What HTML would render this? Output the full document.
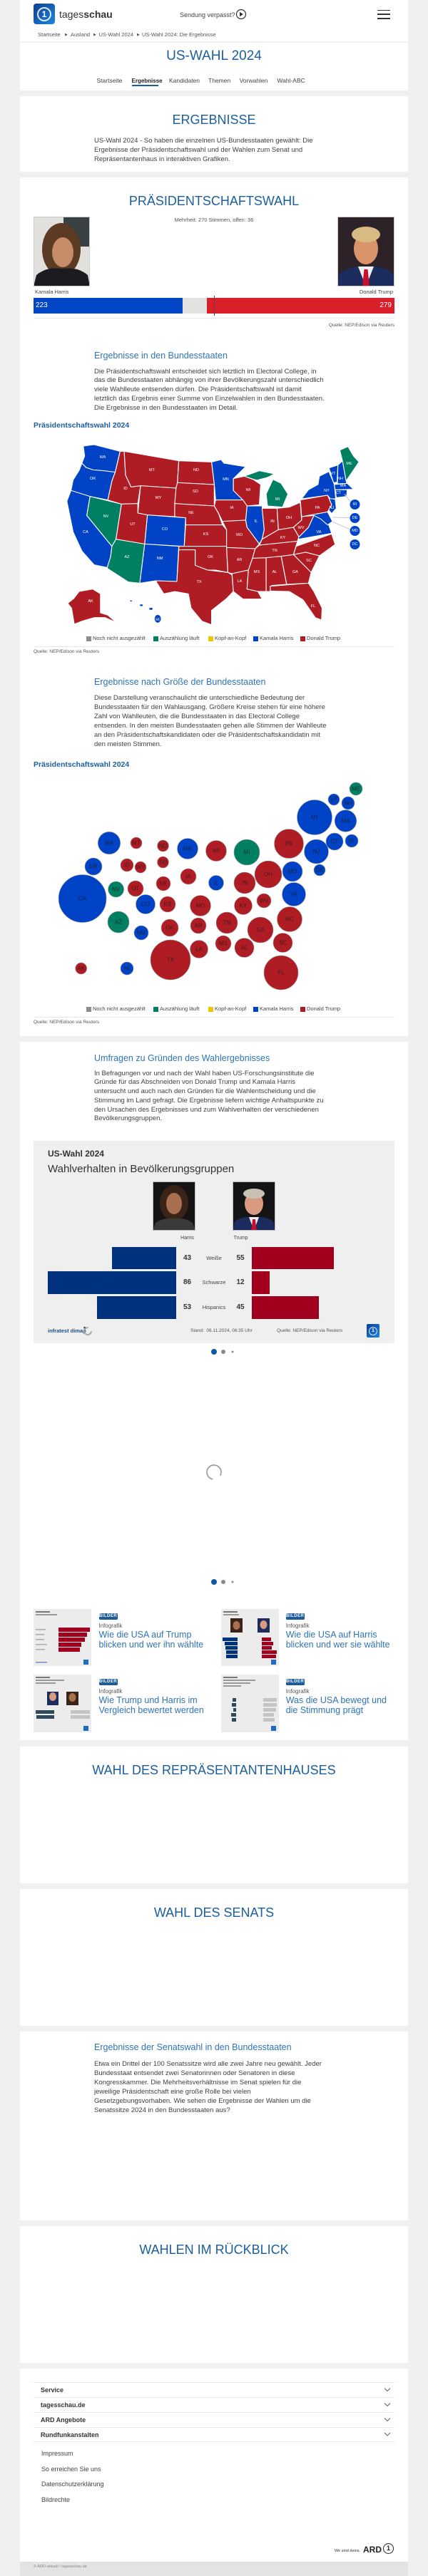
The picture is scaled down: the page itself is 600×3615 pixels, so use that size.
<!DOCTYPE html>
<html><head><meta charset="utf-8">
<style>
*{margin:0;padding:0;box-sizing:border-box}
html,body{width:600px;height:3615px;overflow:hidden}
body{background:#f0f0f0;font-family:"Liberation Sans",Arial,sans-serif;color:#333;position:relative}
.c{position:absolute;left:28px;width:544px;background:#fff}
.t{position:absolute;white-space:nowrap;line-height:1}
.h{position:absolute;left:0;width:600px;text-align:center;font-size:18px;line-height:20px;color:#1b5e9e;white-space:nowrap}
.p{position:absolute;left:132px;font-size:9.5px;line-height:12.9px;color:#404040;white-space:nowrap}
.s{position:absolute;left:132px;font-size:12.5px;line-height:14px;color:#2f74b5;white-space:nowrap}
.b{position:absolute;left:47px;font-size:10.5px;font-weight:bold;line-height:12px;color:#1b5e9e;white-space:nowrap}
.q{position:absolute;font-size:6.5px;line-height:8px;color:#555;white-space:nowrap}
.hr{position:absolute;left:47px;width:506px;height:1px;background:#e6e6e6}
.lg{position:absolute;font-size:7.5px;line-height:8px;color:#444;white-space:nowrap}
.sq{position:absolute;width:7px;height:7px}
.bc{position:absolute;font-size:7.5px;line-height:8px;color:#555;white-space:nowrap}
.nv{position:absolute;font-size:8.5px;line-height:9px;color:#444;white-space:nowrap;top:108.5px}
.badge{position:absolute;width:26px;height:9px;background:#1d5b9a;color:#fff;font-size:6px;font-weight:bold;line-height:9px;text-align:center;border-radius:1.5px;letter-spacing:0.5px}
.inf{position:absolute;font-size:8px;line-height:9px;color:#555}
.ct{position:absolute;font-size:12.5px;line-height:14px;color:#2f74b5;white-space:nowrap}
.fr{position:absolute;left:57px;font-size:9px;font-weight:bold;line-height:10px;color:#333}
.fl{position:absolute;left:58px;font-size:9px;line-height:10px;color:#444}
.num{position:absolute;font-size:10px;font-weight:bold;line-height:10px;color:#333;width:30px;text-align:center}
.grp{position:absolute;font-size:7.5px;line-height:8px;color:#444;width:60px;text-align:center;left:270px}
</style></head><body>

<!-- cards -->
<div class="c" style="top:0;height:127px"></div>
<div class="c" style="top:135px;height:106px"></div>
<div class="c" style="top:249px;height:1205px"></div>
<div class="c" style="top:1462px;height:980px"></div>
<div class="c" style="top:2451px;height:192px"></div>
<div class="c" style="top:2651px;height:192px"></div>
<div class="c" style="top:2851px;height:265px"></div>
<div class="c" style="top:3124px;height:192px"></div>
<div class="c" style="top:3324px;height:271px"></div>
<div style="position:absolute;left:28px;top:3595px;width:544px;height:20px;background:#e3e3e3"></div>

<!-- header -->
<div style="position:absolute;left:47px;top:5px;width:30px;height:29px;border-radius:4px;background:linear-gradient(135deg,#0a3f95,#1f86dc)"></div>
<div style="position:absolute;left:52px;top:9.5px;width:20px;height:20px;border-radius:50%;border:2px solid rgba(255,255,255,0.85);color:#fff;font-weight:bold;font-size:12px;line-height:16px;text-align:center">1</div>
<div class="t" style="left:83px;top:12px;font-size:14px;line-height:16px;color:#333">tages<b>schau</b></div>
<div class="t" style="left:252px;top:15.5px;font-size:9px;line-height:10px;color:#444">Sendung verpasst?</div>
<svg style="position:absolute;left:330px;top:12px" width="16" height="16"><circle cx="8" cy="8" r="6.5" fill="none" stroke="#333" stroke-width="1.2"/><path d="M6 4.8 L11 8 L6 11.2 Z" fill="#333"/></svg>
<div style="position:absolute;left:529px;top:13.5px;width:18px;height:1.6px;background:#333"></div>
<div style="position:absolute;left:529px;top:19.2px;width:18px;height:1.6px;background:#333"></div>
<div style="position:absolute;left:529px;top:25px;width:18px;height:1.6px;background:#333"></div>

<div class="bc" style="left:53px;top:45px">Startseite</div>
<div class="bc" style="left:91px;top:45px;font-size:5px">&#9654;</div>
<div class="bc" style="left:99px;top:45px">Ausland</div>
<div class="bc" style="left:131px;top:45px;font-size:5px">&#9654;</div>
<div class="bc" style="left:138.5px;top:45px">US-Wahl 2024</div>
<div class="bc" style="left:192px;top:45px;font-size:5px">&#9654;</div>
<div class="bc" style="left:199px;top:45px">US-Wahl 2024: Die Ergebnisse</div>
<div style="position:absolute;left:28px;top:58px;width:544px;height:2px;background:#f2f2f2"></div>

<div class="h" style="top:69px;font-size:19px">US-WAHL 2024</div>
<div class="nv" style="left:135.5px">Startseite</div>
<div class="nv" style="left:184.5px;color:#222;font-weight:bold;font-size:8px">Ergebnisse</div>
<div class="nv" style="left:237px">Kandidaten</div>
<div class="nv" style="left:292px">Themen</div>
<div class="nv" style="left:335.6px">Vorwahlen</div>
<div class="nv" style="left:388.4px">Wahl-ABC</div>
<div style="position:absolute;left:184.5px;top:119px;width:37.5px;height:1.6px;background:#1b5e9e"></div>

<!-- card 2 -->
<div class="h" style="top:158px">ERGEBNISSE</div>
<div class="p" style="top:190.5px;line-height:13px">US-Wahl 2024 - So haben die einzelnen US-Bundesstaaten gewählt: Die<br>Ergebnisse der Präsidentschaftswahl und der Wahlen zum Senat und<br>Repräsentantenhaus in interaktiven Grafiken.</div>

<!-- card 3 -->
<div class="h" style="top:272px">PRÄSIDENTSCHAFTSWAHL</div>

<svg style="position:absolute;left:47px;top:304px" width="79" height="98">
<rect width="79" height="98" fill="#e2e0dc"/>
<rect x="42" y="0" width="37" height="42" fill="#384042"/>
<ellipse cx="39" cy="46" rx="27" ry="37" fill="#5b3b24"/>
<ellipse cx="41" cy="50" rx="15" ry="21" fill="#c68c6a"/>
<path d="M0 98 L4 82 Q18 70 40 73 Q62 70 76 82 L79 98 Z" fill="#1c1c20"/>
<rect x="0.5" y="0.5" width="78" height="97" fill="none" stroke="#ccc"/>
</svg>
<svg style="position:absolute;left:473px;top:304px" width="80" height="98">
<rect width="80" height="98" fill="#2c2228"/>
<path d="M0 98 L3 80 Q20 68 40 70 Q62 68 78 80 L80 98 Z" fill="#1d2c5e"/>
<path d="M29 70 L51 70 L40 98 Z" fill="#f0f0f0"/>
<path d="M37.5 74 L42.5 74 L45 98 L35 98 Z" fill="#c8102e"/>
<ellipse cx="40" cy="45" rx="17" ry="22" fill="#d9946a"/>
<ellipse cx="40" cy="25" rx="20" ry="11" fill="#d8bb82"/>
<rect x="0.5" y="0.5" width="79" height="97" fill="none" stroke="#ccc"/>
</svg>
<div class="t" style="left:0;width:600px;text-align:center;top:305px;font-size:7.5px;line-height:8px;color:#555">Mehrheit: 270 Stimmen, offen: 36</div>
<div class="t" style="left:49px;top:406px;font-size:7.5px;line-height:8px;color:#444">Kamala Harris</div>
<div class="t" style="right:49px;top:406px;font-size:7.5px;line-height:8px;color:#444">Donald Trump</div>
<div style="position:absolute;left:47px;top:418px;width:209px;height:22px;background:#0046c6"></div>
<div style="position:absolute;left:256px;top:418px;width:34px;height:22px;background:#e2e2e2"></div>
<div style="position:absolute;left:290px;top:418px;width:263px;height:22px;background:#d81f2a"></div>
<div style="position:absolute;left:299.5px;top:415px;width:0;height:28px;border-left:1px dashed #444"></div>
<div class="t" style="left:50px;top:424px;font-size:10px;color:#fff">223</div>
<div class="t" style="right:51px;top:424px;font-size:10px;color:#fff">279</div>
<div class="hr" style="top:446px"></div>
<div class="q" style="right:47px;top:453px">Quelle: NEP/Edison via Reuters</div>

<div class="s" style="top:492px">Ergebnisse in den Bundesstaaten</div>
<div class="p" style="top:515.5px;line-height:12.75px">Die Präsidentschaftswahl entscheidet sich letztlich im Electoral College, in<br>das die Bundesstaaten abhängig von ihrer Bevölkerungszahl unterschiedlich<br>viele Wahlleute entsenden dürfen. Die Präsidentschaftswahl ist damit<br>letztlich das Ergebnis einer Summe von Einzelwahlen in den Bundesstaaten.<br>Die Ergebnisse in den Bundesstaaten im Detail.</div>
<div class="b" style="top:591px">Präsidentschaftswahl 2024</div>

<!-- US map -->
<svg style="position:absolute;left:0;top:600px" width="600" height="300" viewBox="0 0 600 300">
<g transform="scale(0.38265 0.33333)" stroke="#fff" stroke-width="3" stroke-linejoin="round">
<g fill="#0043c6">
<polygon points="305,78 345,72 440,100 422,188 380,182 340,178 315,168 300,150 310,120"/>
<polygon points="300,150 315,168 340,178 380,182 422,188 410,225 395,305 330,290 260,265 268,220 290,180"/>
<polygon points="260,265 330,290 318,370 410,500 405,545 395,590 345,578 300,520 268,440 245,310"/>
<polygon points="540,368 680,380 675,500 530,490"/>
<polygon points="530,490 655,500 648,648 570,645 512,655"/>
<polygon points="775,145 810,135 820,150 900,165 855,215 855,265 890,305 790,305 785,240"/>
<polygon points="905,330 960,330 968,430 960,470 950,490 905,420 900,390"/>
<polygon points="1045,480 1095,460 1100,455 1130,420 1150,370 1200,395 1215,445"/>
<polygon points="1105,300 1130,262 1165,240 1170,205 1205,185 1225,240 1230,300 1210,300 1200,285"/>
<polygon points="1205,298 1228,302 1232,340 1215,362 1203,345 1215,325"/>
<polygon points="1105,375 1200,355 1218,395 1200,410 1175,385 1150,370"/>
<polygon points="1205,170 1238,158 1235,230 1222,232"/>
<polygon points="1238,158 1255,140 1270,235 1236,237"/>
<polygon points="1224,240 1272,235 1295,260 1228,262"/>
<polygon points="1228,262 1272,262 1270,290 1232,295"/>
<ellipse cx="480" cy="730" rx="5" ry="4"/>
<ellipse cx="518" cy="748" rx="7" ry="5"/>
<ellipse cx="553" cy="763" rx="8" ry="6"/>
<ellipse cx="578" cy="805" rx="13" ry="18"/>
</g>
<g fill="#007f63">
<polygon points="330,290 445,322 425,470 410,500 318,370"/>
<polygon points="425,470 530,490 512,655 470,650 392,592 405,545 410,500"/>
<polygon points="980,330 975,280 1000,218 1030,235 1055,280 1035,335"/>
<polygon points="895,205 950,182 1005,195 980,210 940,222"/>
<polygon points="1245,95 1275,80 1295,120 1315,145 1268,225 1255,142"/>
</g>
<g fill="#b01c24">
<polygon points="440,100 455,100 460,200 480,250 515,245 505,320 445,322 395,305 410,225 422,188 430,150"/>
<polygon points="455,100 655,140 650,232 645,255 515,245 480,250 460,200"/>
<polygon points="515,245 645,255 640,375 540,368 505,360"/>
<polygon points="445,322 505,320 505,360 540,368 530,490 425,470"/>
<polygon points="655,140 775,145 785,240 650,232"/>
<polygon points="650,232 785,240 785,330 640,320 645,255"/>
<polygon points="640,320 785,330 800,360 815,410 680,410 680,380 640,375"/>
<polygon points="680,410 815,410 830,430 830,500 675,500"/>
<polygon points="655,500 830,500 835,610 790,600 760,600 715,580 715,515 655,515"/>
<polygon points="570,645 648,648 655,515 715,515 715,580 760,600 835,610 850,620 855,690 830,720 775,770 775,830 740,815 700,760 690,700 640,690 600,700"/>
<polygon points="855,215 895,205 930,220 955,240 950,325 905,330 890,305 855,265"/>
<polygon points="790,305 890,305 905,330 900,390 815,395 800,360 785,330"/>
<polygon points="815,395 900,390 905,420 950,490 935,510 830,505 830,430"/>
<polygon points="830,505 935,510 925,550 910,600 850,615 835,610"/>
<polygon points="850,615 910,600 905,680 945,690 960,722 890,722 855,690"/>
<polygon points="925,550 975,548 975,690 945,690 905,680 910,600"/>
<polygon points="935,510 950,495 1090,478 1075,535 1030,542 975,548 925,550"/>
<polygon points="950,495 960,470 1020,430 1075,420 1095,460 1090,478"/>
<polygon points="960,340 1015,340 1020,430 960,470 968,430"/>
<polygon points="1015,340 1060,335 1100,315 1105,390 1075,420 1020,430"/>
<polygon points="1075,420 1105,390 1105,375 1150,370 1130,420 1100,455 1095,460"/>
<polygon points="1085,500 1215,448 1228,492 1170,540 1120,525 1075,535"/>
<polygon points="1075,535 1120,525 1170,540 1140,610"/>
<polygon points="1030,542 1075,535 1140,610 1130,655 1050,660"/>
<polygon points="975,548 1030,542 1050,660 995,665 990,690 975,690"/>
<polygon points="990,668 1130,655 1150,690 1180,760 1178,810 1155,800 1110,725 1060,690 990,688"/>
<polygon points="1100,305 1200,285 1215,325 1200,355 1105,375"/>
<polygon points="290,690 340,680 368,700 368,780 395,790 425,820 385,800 345,800 300,815 272,828 262,760 248,740 270,720"/>
</g>
<g stroke="#c8c8c8" stroke-width="3" fill="none">
<line x1="1262" y1="280" x2="1288" y2="318"/>
<line x1="1218" y1="378" x2="1283" y2="380"/>
<line x1="1215" y1="395" x2="1285" y2="430"/>
</g>
</g>
<g fill="#0043c6">
<circle cx="497.5" cy="108" r="7"/><circle cx="497.5" cy="127" r="7"/><circle cx="497.5" cy="145" r="7"/><circle cx="497.5" cy="164" r="7"/>
</g>
<g font-family="Liberation Sans, sans-serif" font-size="5.5" fill="#fff" text-anchor="middle" dominant-baseline="central">
<text x="144" y="42">WA</text><text x="130" y="72">OR</text><text x="120" y="147">CA</text><text x="148.5" y="125">NV</text>
<text x="176" y="86">ID</text><text x="213" y="60">MT</text><text x="222" y="99">WY</text><text x="186" y="136">UT</text>
<text x="178" y="182">AZ</text><text x="231" y="143">CO</text><text x="224" y="184">NM</text><text x="275" y="60">ND</text>
<text x="274" y="90">SD</text><text x="268" y="120">NE</text><text x="288.5" y="150">KS</text><text x="295" y="182">OK</text>
<text x="279" y="217">TX</text><text x="316.5" y="73">MN</text><text x="348" y="88">WI</text><text x="325" y="113">IA</text>
<text x="359" y="132">IL</text><text x="335.6" y="151">MO</text><text x="335.6" y="186">AR</text><text x="336" y="216">LA</text>
<text x="389" y="101">MI</text><text x="382" y="132">IN</text><text x="405" y="127">OH</text><text x="396.5" y="155">KY</text>
<text x="385" y="173">TN</text><text x="360" y="203">MS</text><text x="385" y="203">AL</text><text x="414" y="203">GA</text>
<text x="439" y="251">FL</text><text x="433" y="187">SC</text><text x="444" y="166">NC</text><text x="447" y="147">VA</text>
<text x="422" y="141">WV</text><text x="445" y="113">PA</text><text x="458" y="89">NY</text><text x="467" y="65">VT</text>
<text x="477" y="72">NH</text><text x="481" y="82">MA</text><text x="474.5" y="92">CT</text><text x="465" y="113">NJ</text>
<text x="489.5" y="51">ME</text><text x="127" y="244">AK</text><text x="221" y="270">HI</text>
<text x="497.5" y="108">RI</text><text x="497.5" y="127">DE</text><text x="497.5" y="145">MD</text><text x="497.5" y="164">DC</text>
</g>
</svg>

<!-- legend 1 -->
<div class="sq" style="left:121px;top:892.5px;background:#8c8c8c"></div><div class="lg" style="left:130px;top:892px">Noch nicht ausgezählt</div>
<div class="sq" style="left:215px;top:892.5px;background:#007f63"></div><div class="lg" style="left:224px;top:892px">Auszählung läuft</div>
<div class="sq" style="left:292px;top:892.5px;background:#f0c400"></div><div class="lg" style="left:301px;top:892px">Kopf-an-Kopf</div>
<div class="sq" style="left:355px;top:892.5px;background:#0043c6"></div><div class="lg" style="left:364px;top:892px">Kamala Harris</div>
<div class="sq" style="left:421px;top:892.5px;background:#b01c24"></div><div class="lg" style="left:430px;top:892px">Donald Trump</div>
<div class="hr" style="top:907px"></div>
<div class="q" style="left:47px;top:911px">Quelle: NEP/Edison via Reuters</div>

<div class="s" style="top:950px">Ergebnisse nach Größe der Bundesstaaten</div>
<div class="p" style="top:972.5px;line-height:13px">Diese Darstellung veranschaulicht die unterschiedliche Bedeutung der<br>Bundesstaaten für den Wahlausgang. Größere Kreise stehen für eine höhere<br>Zahl von Wahlleuten, die die Bundesstaaten in das Electoral College<br>entsenden. In den meisten Bundesstaaten gehen alle Stimmen der Wahlleute<br>an den Präsidentschaftskandidaten oder die Präsidentschaftskandidatin mit<br>den meisten Stimmen.</div>
<div class="b" style="top:1067px">Präsidentschaftswahl 2024</div>

<!-- bubble map -->
<svg style="position:absolute;left:0;top:1090px" width="600" height="300">
<g transform="translate(0,-1090)" stroke="#9a9a9a" stroke-width="0.6">
<g fill="#0043c6">
<circle cx="468" cy="1122" r="8"/><circle cx="488" cy="1127" r="9"/><circle cx="441" cy="1147" r="24.5"/><circle cx="484.5" cy="1152" r="15.3"/>
<circle cx="153" cy="1183" r="15.7"/><circle cx="263" cy="1191" r="14.5"/><circle cx="443.5" cy="1195" r="17"/><circle cx="469" cy="1181" r="12"/>
<circle cx="493" cy="1180" r="9"/><circle cx="448" cy="1221" r="8"/><circle cx="131" cy="1216" r="12"/><circle cx="115.6" cy="1261" r="33.5"/>
<circle cx="303" cy="1239" r="10.5"/><circle cx="410" cy="1223" r="14"/><circle cx="204" cy="1269" r="13.5"/><circle cx="412" cy="1255" r="16.5"/>
<circle cx="198" cy="1309" r="10"/><circle cx="178" cy="1359" r="9"/>
</g>
<g fill="#007f63">
<circle cx="499" cy="1107" r="9"/><circle cx="346" cy="1196" r="18"/><circle cx="162.6" cy="1248" r="11"/><circle cx="166" cy="1294" r="15"/>
</g>
<g fill="#b01c24">
<circle cx="191" cy="1183" r="8"/><circle cx="228.5" cy="1187" r="8"/><circle cx="303" cy="1194" r="14.5"/><circle cx="405" cy="1184" r="20.5"/>
<circle cx="178" cy="1214" r="9"/><circle cx="197" cy="1217" r="8"/><circle cx="228.5" cy="1210" r="8"/><circle cx="190" cy="1247" r="11"/>
<circle cx="229" cy="1240" r="10"/><circle cx="264" cy="1230" r="11"/><circle cx="343" cy="1239" r="15"/><circle cx="376" cy="1227" r="19"/>
<circle cx="235" cy="1269" r="11"/><circle cx="281" cy="1271" r="14.5"/><circle cx="341" cy="1271" r="12.5"/><circle cx="370" cy="1264" r="10"/>
<circle cx="238" cy="1302" r="12"/><circle cx="278" cy="1299" r="11"/><circle cx="318" cy="1295" r="15"/><circle cx="365" cy="1305" r="18"/>
<circle cx="406" cy="1290" r="17.5"/><circle cx="279" cy="1332" r="12.5"/><circle cx="313" cy="1324" r="11"/><circle cx="342.5" cy="1330" r="13.5"/>
<circle cx="396.5" cy="1323" r="13.5"/><circle cx="239" cy="1347" r="28"/><circle cx="394" cy="1365" r="24"/><circle cx="113.7" cy="1359" r="8"/>
</g>
<g font-family="Liberation Sans, sans-serif" font-size="8" fill="#1a1a1a" fill-opacity="0.75" stroke="none" text-anchor="middle" dominant-baseline="central">
<text x="499" y="1107">ME</text><text x="468" y="1122">VT</text><text x="488" y="1127">NH</text><text x="441" y="1147">NY</text><text x="484.5" y="1152">MA</text>
<text x="153" y="1183">WA</text><text x="191" y="1183">MT</text><text x="228.5" y="1187">ND</text><text x="263" y="1191">MN</text><text x="303" y="1194">WI</text>
<text x="346" y="1196">MI</text><text x="405" y="1184">PA</text><text x="443.5" y="1195">NJ</text><text x="469" y="1181">CT</text><text x="493" y="1180">RI</text>
<text x="448" y="1221">DE</text><text x="131" y="1216">OR</text><text x="178" y="1214">ID</text><text x="197" y="1217">WY</text><text x="228.5" y="1210">SD</text>
<text x="115.6" y="1261">CA</text><text x="162.6" y="1248">NV</text><text x="190" y="1247">UT</text><text x="229" y="1240">NE</text><text x="264" y="1230">IA</text>
<text x="303" y="1239">IL</text><text x="343" y="1239">IN</text><text x="376" y="1227">OH</text><text x="410" y="1223">MD</text><text x="204" y="1269">CO</text>
<text x="235" y="1269">KS</text><text x="281" y="1271">MO</text><text x="341" y="1271">KY</text><text x="370" y="1264">WV</text><text x="412" y="1255">VA</text>
<text x="166" y="1294">AZ</text><text x="198" y="1309">NM</text><text x="238" y="1302">OK</text><text x="278" y="1299">AR</text><text x="318" y="1295">TN</text>
<text x="365" y="1305">GA</text><text x="406" y="1290">NC</text><text x="279" y="1332">LA</text><text x="313" y="1324">MS</text><text x="342.5" y="1330">AL</text>
<text x="396.5" y="1323">SC</text><text x="239" y="1347">TX</text><text x="394" y="1365">FL</text><text x="113.7" y="1359">AK</text><text x="178" y="1359">HI</text>
</g>
</g>
</svg>

<!-- legend 2 -->
<div class="sq" style="left:121px;top:1412.5px;background:#8c8c8c"></div><div class="lg" style="left:130px;top:1412px">Noch nicht ausgezählt</div>
<div class="sq" style="left:215px;top:1412.5px;background:#007f63"></div><div class="lg" style="left:224px;top:1412px">Auszählung läuft</div>
<div class="sq" style="left:292px;top:1412.5px;background:#f0c400"></div><div class="lg" style="left:301px;top:1412px">Kopf-an-Kopf</div>
<div class="sq" style="left:355px;top:1412.5px;background:#0043c6"></div><div class="lg" style="left:364px;top:1412px">Kamala Harris</div>
<div class="sq" style="left:421px;top:1412.5px;background:#b01c24"></div><div class="lg" style="left:430px;top:1412px">Donald Trump</div>
<div class="hr" style="top:1427px"></div>
<div class="q" style="left:47px;top:1431px">Quelle: NEP/Edison via Reuters</div>

<!-- card 4 -->
<div class="s" style="top:1478px">Umfragen zu Gründen des Wahlergebnisses</div>
<div class="p" style="top:1500.5px;line-height:12.8px">In Befragungen vor und nach der Wahl haben US-Forschungsinstitute die<br>Gründe für das Abschneiden von Donald Trump und Kamala Harris<br>untersucht und auch nach den Gründen für die Wahlentscheidung und die<br>Stimmung im Land gefragt. Die Ergebnisse liefern wichtige Anhaltspunkte zu<br>den Ursachen des Ergebnisses und zum Wahlverhalten der verschiedenen<br>Bevölkerungsgruppen.</div>

<div style="position:absolute;left:47px;top:1601px;width:506px;height:284px;background:#efefef"></div>
<div class="t" style="left:67px;top:1612px;font-size:12px;line-height:14px;font-weight:bold;color:#333">US-Wahl 2024</div>
<div class="t" style="left:67px;top:1632px;font-size:15px;line-height:18px;color:#333">Wahlverhalten in Bevölkerungsgruppen</div>
<svg style="position:absolute;left:214px;top:1658px" width="60" height="69">
<rect width="60" height="69" fill="#141414"/>
<ellipse cx="30" cy="30" rx="20" ry="25" fill="#3a2418"/>
<ellipse cx="30" cy="31" rx="11" ry="15" fill="#a8704e"/>
<path d="M0 69 L4 58 Q16 50 30 52 Q44 50 56 58 L60 69 Z" fill="#3a3a3a"/>
<rect x="0.5" y="0.5" width="59" height="68" fill="none" stroke="#bbb"/>
</svg>
<svg style="position:absolute;left:326px;top:1658px" width="60" height="69">
<rect width="60" height="69" fill="#141414"/>
<path d="M0 69 L3 56 Q15 48 30 50 Q45 48 57 56 L60 69 Z" fill="#1d2c5e"/>
<path d="M23 50 L37 50 L30 69 Z" fill="#eee"/>
<path d="M28 53 L32 53 L33.5 69 L26.5 69 Z" fill="#c8102e"/>
<ellipse cx="30" cy="31" rx="13" ry="16" fill="#d89a80"/>
<ellipse cx="30" cy="17" rx="15" ry="7" fill="#c8c0b0"/>
<rect x="0.5" y="0.5" width="59" height="68" fill="none" stroke="#bbb"/>
</svg>
<div class="t" style="left:232.5px;width:60px;text-align:center;top:1734px;font-size:7px;line-height:8px;color:#444">Harris</div>
<div class="t" style="left:307.5px;width:60px;text-align:center;top:1734px;font-size:7px;line-height:8px;color:#444">Trump</div>

<div style="position:absolute;left:157px;top:1750px;width:90px;height:31px;background:#00317c"></div>
<div style="position:absolute;left:353px;top:1750px;width:115px;height:31px;background:#a0001e"></div>
<div class="num" style="left:247.5px;top:1761px">43</div><div class="grp" style="top:1762px">Weiße</div><div class="num" style="left:322px;top:1761px">55</div>
<div style="position:absolute;left:67px;top:1784px;width:180px;height:32px;background:#00317c"></div>
<div style="position:absolute;left:353px;top:1784px;width:25px;height:32px;background:#a0001e"></div>
<div class="num" style="left:247.5px;top:1795px">86</div><div class="grp" style="top:1796px">Schwarze</div><div class="num" style="left:322px;top:1795px">12</div>
<div style="position:absolute;left:136px;top:1819px;width:111px;height:32px;background:#00317c"></div>
<div style="position:absolute;left:353px;top:1819px;width:94px;height:32px;background:#a0001e"></div>
<div class="num" style="left:247.5px;top:1830px">53</div><div class="grp" style="top:1831px">Hispanics</div><div class="num" style="left:322px;top:1830px">45</div>

<div class="t" style="left:67px;top:1864px;font-size:7.5px;line-height:8px;color:#1f4f86;font-weight:bold">infratest dimap</div>
<svg style="position:absolute;left:116px;top:1861px" width="14" height="14"><circle cx="7" cy="7" r="5" fill="none" stroke="#aaa" stroke-width="2" stroke-dasharray="24 8"/><circle cx="2.5" cy="2" r="1.3" fill="#1f4f86"/></svg>
<div class="q" style="left:267px;top:1864px">Stand:&nbsp; 06.11.2024, 06:35 Uhr</div>
<div class="q" style="left:388px;top:1864px">Quelle: NEP/Edison via Reuters</div>
<div style="position:absolute;left:514px;top:1858px;width:18px;height:19px;border-radius:2px;background:linear-gradient(135deg,#0a3f95,#1f86dc)"></div>
<div style="position:absolute;left:517px;top:1861.5px;width:12px;height:12px;border-radius:50%;border:1.2px solid rgba(255,255,255,0.85);color:#fff;font-size:7px;font-weight:bold;line-height:10px;text-align:center">1</div>

<svg style="position:absolute;left:290px;top:1890px" width="42" height="14"><circle cx="10" cy="7" r="4" fill="#0a5aa8"/><circle cx="23" cy="7" r="3" fill="#8a8a8a"/><circle cx="36" cy="7" r="1.5" fill="#8a8a8a"/></svg>

<svg style="position:absolute;left:288px;top:2054px" width="24" height="24"><circle cx="12" cy="12" r="10" fill="none" stroke="#999" stroke-width="1.6" stroke-dasharray="50 13" transform="rotate(100 12 12)"/></svg>

<svg style="position:absolute;left:290px;top:2213px" width="42" height="14"><circle cx="10" cy="7" r="4" fill="#0a5aa8"/><circle cx="23" cy="7" r="3" fill="#8a8a8a"/><circle cx="36" cy="7" r="1.5" fill="#8a8a8a"/></svg>

<!-- teaser thumbnails -->
<svg style="position:absolute;left:47px;top:2258px" width="81" height="80">
<rect width="81" height="80" fill="#ececec"/>
<rect x="3" y="3" width="20" height="2" fill="#777"/><rect x="3" y="7" width="30" height="2" fill="#999"/>
<g fill="#a0001e"><rect x="35" y="26" width="44" height="6"/><rect x="35" y="33" width="40" height="6"/><rect x="35" y="40" width="37" height="6"/><rect x="35" y="47" width="32" height="6"/><rect x="35" y="54" width="30" height="6"/></g>
<g fill="#aaa"><rect x="3" y="28" width="14" height="1.5"/><rect x="3" y="35" width="12" height="1.5"/><rect x="3" y="42" width="12" height="1.5"/><rect x="3" y="49" width="16" height="1.5"/><rect x="3" y="56" width="13" height="1.5"/></g>
<rect x="70" y="71" width="7" height="7" fill="#1f6cc0"/><rect x="3" y="74" width="16" height="1.5" fill="#6a8fc0"/>
</svg>
<svg style="position:absolute;left:310px;top:2258px" width="81" height="80">
<rect width="81" height="80" fill="#ececec"/>
<rect x="3" y="3" width="20" height="2" fill="#777"/><rect x="3" y="7" width="22" height="2" fill="#999"/>
<rect x="13" y="13" width="17" height="20" fill="#3a2418"/><ellipse cx="21.5" cy="23" rx="5" ry="6" fill="#a8704e"/>
<rect x="51" y="13" width="17" height="20" fill="#1d2c5e"/><ellipse cx="59.5" cy="22" rx="5" ry="6" fill="#d89a80"/>
<g fill="#00317c"><rect x="2" y="40" width="21" height="5"/><rect x="5" y="46" width="18" height="5"/><rect x="6" y="52" width="17" height="5"/><rect x="7" y="58" width="16" height="5"/><rect x="7" y="64" width="16" height="5"/></g>
<g fill="#a0001e"><rect x="57" y="40" width="13" height="5"/><rect x="57" y="46" width="16" height="5"/><rect x="57" y="52" width="14" height="5"/><rect x="57" y="58" width="21" height="5"/><rect x="57" y="64" width="20" height="5"/></g>
<rect x="70" y="71" width="7" height="7" fill="#1f6cc0"/>
</svg>
<svg style="position:absolute;left:47px;top:2350px" width="81" height="81">
<rect width="81" height="81" fill="#ececec"/>
<rect x="3" y="3" width="20" height="2" fill="#777"/><rect x="3" y="7" width="40" height="2" fill="#999"/><rect x="3" y="11" width="28" height="2" fill="#999"/>
<rect x="19" y="24" width="16" height="19" fill="#1d2c5e"/><ellipse cx="27" cy="31" rx="5" ry="6" fill="#d89a80"/>
<rect x="46" y="24" width="17" height="19" fill="#3a2418"/><ellipse cx="54.5" cy="32" rx="5" ry="6" fill="#a8704e"/>
<g fill="#2e4a5a"><rect x="3" y="50" width="26" height="5"/><rect x="4" y="57" width="25" height="5"/></g>
<g fill="#c4c4c4"><rect x="52" y="50" width="27" height="5"/><rect x="52" y="57" width="27" height="5"/></g>
<rect x="70" y="72" width="7" height="7" fill="#1f6cc0"/>
</svg>
<svg style="position:absolute;left:310px;top:2350px" width="81" height="81">
<rect width="81" height="81" fill="#ececec"/>
<rect x="3" y="3" width="20" height="2" fill="#777"/><rect x="3" y="7" width="45" height="2" fill="#999"/><rect x="3" y="11" width="38" height="2" fill="#999"/><rect x="3" y="15" width="25" height="2" fill="#999"/>
<g fill="#2e4a5a"><rect x="16" y="33" width="5" height="5"/><rect x="15" y="40" width="6" height="5"/><rect x="17" y="47" width="4" height="5"/><rect x="14" y="54" width="7" height="5"/><rect x="15" y="61" width="6" height="5"/></g>
<g fill="#c4c4c4"><rect x="59" y="33" width="19" height="5"/><rect x="59" y="40" width="19" height="5"/><rect x="59" y="47" width="18" height="5"/><rect x="59" y="54" width="15" height="5"/><rect x="59" y="61" width="16" height="5"/></g>
<rect x="70" y="72" width="7" height="7" fill="#1f6cc0"/>
</svg>

<div class="badge" style="left:138.5px;top:2263.5px">BILDER</div>
<div class="inf" style="left:138.5px;top:2276.5px">Infografik</div>
<div class="ct" style="left:138.5px;top:2287px">Wie die USA auf Trump</div>
<div class="ct" style="left:138.5px;top:2301px">blicken und wer ihn wählte</div>

<div class="badge" style="left:400.7px;top:2263.5px">BILDER</div>
<div class="inf" style="left:400.7px;top:2276.5px">Infografik</div>
<div class="ct" style="left:400.7px;top:2287px">Wie die USA auf Harris</div>
<div class="ct" style="left:400.7px;top:2301px">blicken und wer sie wählte</div>

<div class="badge" style="left:138.5px;top:2355.5px">BILDER</div>
<div class="inf" style="left:138.5px;top:2368.5px">Infografik</div>
<div class="ct" style="left:138.5px;top:2379px">Wie Trump und Harris im</div>
<div class="ct" style="left:138.5px;top:2393px">Vergleich bewertet werden</div>

<div class="badge" style="left:400.7px;top:2355.5px">BILDER</div>
<div class="inf" style="left:400.7px;top:2368.5px">Infografik</div>
<div class="ct" style="left:400.7px;top:2379px">Was die USA bewegt und</div>
<div class="ct" style="left:400.7px;top:2393px">die Stimmung prägt</div>

<!-- cards 5-8 -->
<div class="h" style="top:2474px">WAHL DES REPRÄSENTANTENHAUSES</div>
<div class="h" style="top:2674px">WAHL DES SENATS</div>
<div class="s" style="top:2866px">Ergebnisse der Senatswahl in den Bundesstaaten</div>
<div class="p" style="top:2889.5px;line-height:13px">Etwa ein Drittel der 100 Senatssitze wird alle zwei Jahre neu gewählt. Jeder<br>Bundesstaat entsendet zwei Senatorinnen oder Senatoren in diese<br>Kongresskammer. Die Mehrheitsverhältnisse im Senat spielen für die<br>jeweilige Präsidentschaft eine große Rolle bei vielen<br>Gesetzgebungsvorhaben. Wie sehen die Ergebnisse der Wahlen um die<br>Senatssitze 2024 in den Bundesstaaten aus?</div>
<div class="h" style="top:3147px">WAHLEN IM RÜCKBLICK</div>

<!-- footer -->
<div class="hr" style="top:3343px"></div>
<div class="hr" style="top:3364px"></div>
<div class="hr" style="top:3385px"></div>
<div class="hr" style="top:3406px"></div>
<div class="hr" style="top:3426px"></div>
<div class="fr" style="top:3349px">Service</div>
<div class="fr" style="top:3370px">tagesschau.de</div>
<div class="fr" style="top:3391px">ARD Angebote</div>
<div class="fr" style="top:3412px">Rundfunkanstalten</div>
<svg style="position:absolute;left:538px;top:3350px" width="12" height="70" fill="none" stroke="#555" stroke-width="0.9">
<polyline points="1,1.5 5,5.5 9,1.5"/><polyline points="1,22.5 5,26.5 9,22.5"/><polyline points="1,43.5 5,47.5 9,43.5"/><polyline points="1,64 5,68 9,64"/>
</svg>
<div class="fl" style="top:3438px">Impressum</div>
<div class="fl" style="top:3460px">So erreichen Sie uns</div>
<div class="fl" style="top:3481px">Datenschutzerklärung</div>
<div class="fl" style="top:3503px">Bildrechte</div>

<div class="t" style="left:469px;top:3577px;font-size:5.5px;line-height:6px;color:#333">Wir sind deins.</div>
<div class="t" style="left:509px;top:3571px;font-size:12px;line-height:14px;font-weight:bold;color:#222">ARD</div>
<div style="position:absolute;left:537px;top:3569px;width:15px;height:15px;border-radius:50%;border:1.6px solid #222;color:#222;font-size:9px;font-weight:bold;line-height:12px;text-align:center">1</div>

<div class="t" style="left:47px;top:3599px;font-size:5.5px;line-height:6px;color:#888">© ARD-aktuell / tagesschau.de</div>

</body></html>
